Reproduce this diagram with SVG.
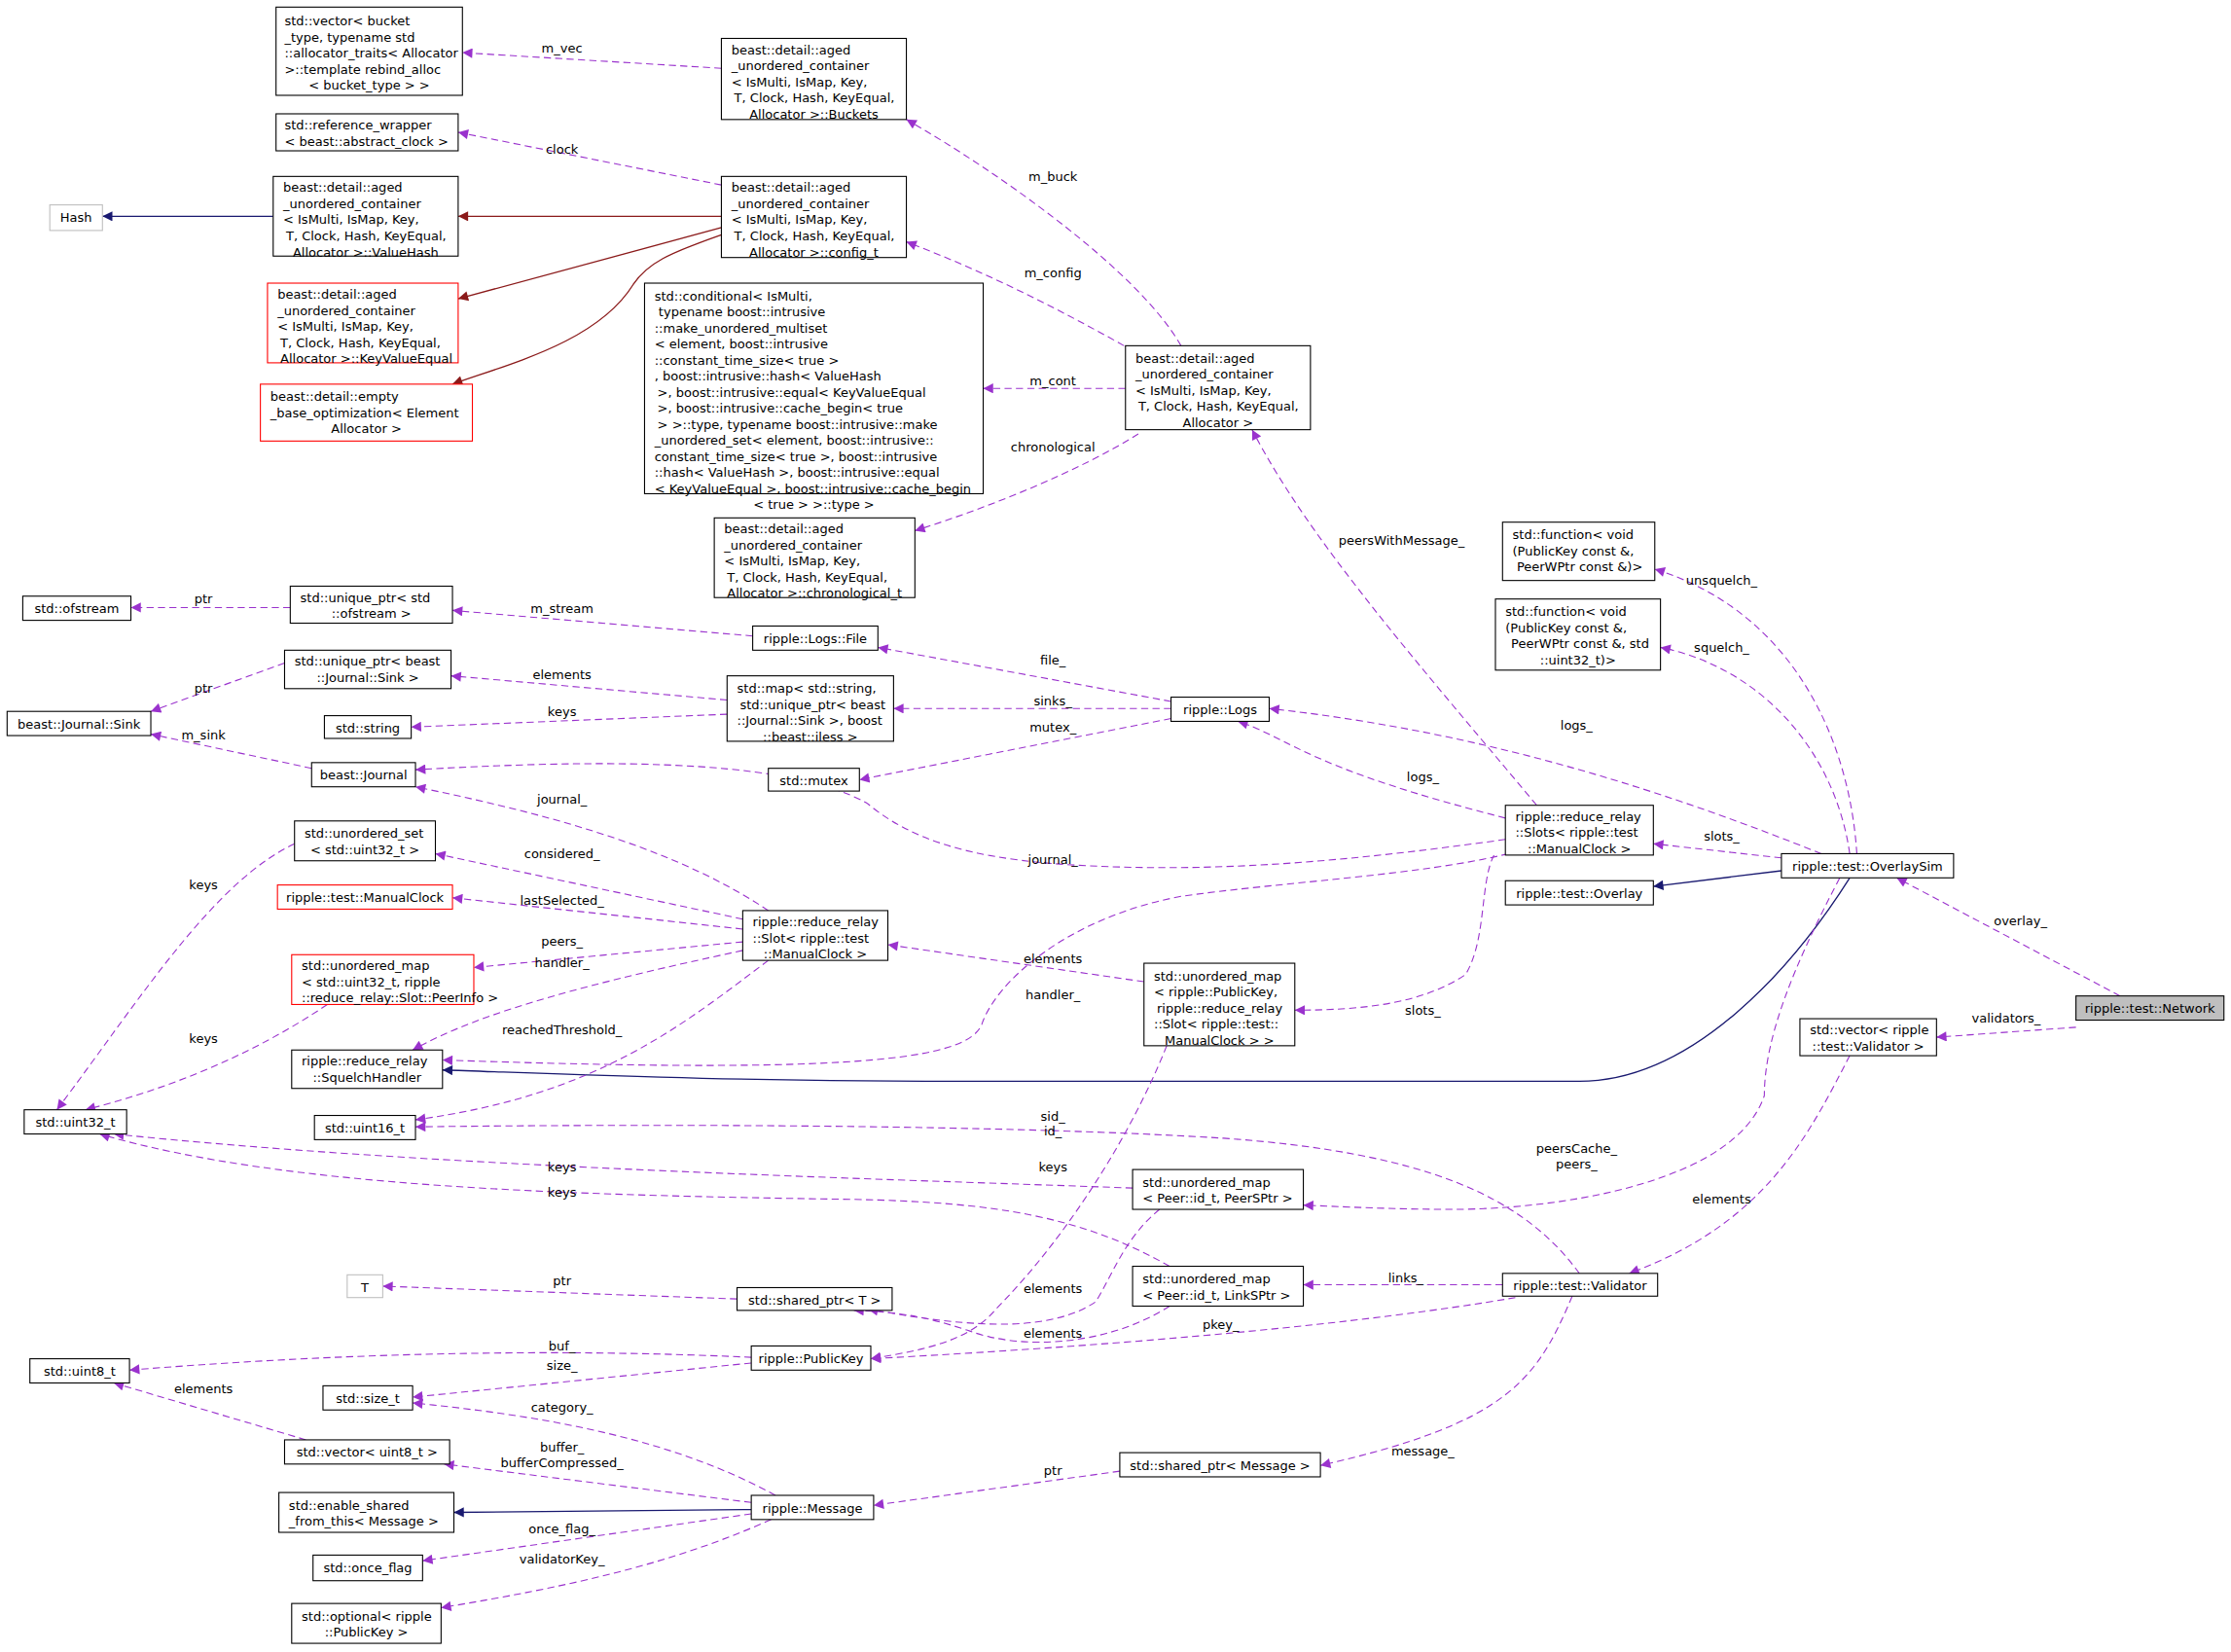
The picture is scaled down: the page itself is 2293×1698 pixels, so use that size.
<svg xmlns="http://www.w3.org/2000/svg" width="2293" height="1698" viewBox="0 0 2293 1698">
<style>
.n rect{fill:#fff;stroke:#000;stroke-width:0.75}
.n.r rect{stroke:#ff0000}
.n.g rect{stroke:#bfbfbf}
.n.s rect{fill:#bfbfbf}
text{font-family:"DejaVu Sans","Liberation Sans",sans-serif;font-size:8.9px;fill:#000}
.c{text-anchor:middle}
.e path{fill:none;stroke:#9a32cd;stroke-width:0.75;stroke-dasharray:5,3}
.e text{text-anchor:middle}
.i path{fill:none;stroke:#191970;stroke-width:0.9}
.d path{fill:none;stroke:#8b1a1a;stroke-width:0.9}
</style>
<defs>
<marker id="ap" viewBox="0 0 10 10" refX="10" refY="5" markerWidth="8" markerHeight="7" markerUnits="userSpaceOnUse" orient="auto"><path d="M0,0L10,5L0,10z" fill="#9a32cd"/></marker>
<marker id="an" viewBox="0 0 10 10" refX="10" refY="5" markerWidth="8" markerHeight="7" markerUnits="userSpaceOnUse" orient="auto"><path d="M0,0L10,5L0,10z" fill="#191970"/></marker>
<marker id="ad" viewBox="0 0 10 10" refX="10" refY="5" markerWidth="8" markerHeight="7" markerUnits="userSpaceOnUse" orient="auto"><path d="M0,0L10,5L0,10z" fill="#8b1a1a"/></marker>
</defs>
<rect width="2293" height="1698" fill="#fff"/>
<g transform="scale(1.4624)">
<g id="edges">
<g class="d">
<path d="M507,152L322,152" marker-end="url(#ad)"/>
<path d="M507,160L322,210" marker-end="url(#ad)"/>
<path d="M507,165C470,178 455,185 445,200C420,240 360,255 318,270" marker-end="url(#ad)"/>
</g>
<g class="i">
<path d="M192,152L72,152" marker-end="url(#an)"/>
<path d="M1252,612L1162,623" marker-end="url(#an)"/>
<path d="M1300,617C1260,680 1190,760 1110,760L700,760C500,760 400,755 311,752" marker-end="url(#an)"/>
<path d="M528,1061L319,1063" marker-end="url(#an)"/>
</g>
<g class="e">
<path d="M507,48L325,37" marker-end="url(#ap)"/><text x="395" y="37">m_vec</text>
<path d="M507,130L322,93" marker-end="url(#ap)"/><text x="395" y="108">clock</text>
<path d="M830,243C800,190 700,120 637,84" marker-end="url(#ap)"/><text x="740" y="127">m_buck</text>
<path d="M790,243C740,215 690,190 637,170" marker-end="url(#ap)"/><text x="740" y="195">m_config</text>
<path d="M791,273L691,273" marker-end="url(#ap)"/><text x="740" y="271">m_cont</text>
<path d="M800,305C760,330 700,355 643,373" marker-end="url(#ap)"/><text x="740" y="317">chronological</text>
<path d="M529,447L318,429" marker-end="url(#ap)"/><text x="395" y="431">m_stream</text>
<path d="M204,427L92,427" marker-end="url(#ap)"/><text x="143" y="424">ptr</text>
<path d="M823,493L617,455" marker-end="url(#ap)"/><text x="740" y="467">file_</text>
<path d="M823,498L628,498" marker-end="url(#ap)"/><text x="740" y="496">sinks_</text>
<path d="M823,505L604,548" marker-end="url(#ap)"/><text x="740" y="514">mutex_</text>
<path d="M511,492L317,475" marker-end="url(#ap)"/><text x="395" y="477">elements</text>
<path d="M511,502L289,511" marker-end="url(#ap)"/><text x="395" y="503">keys</text>
<path d="M200,466L106,500" marker-end="url(#ap)"/><text x="143" y="487">ptr</text>
<path d="M219,540L106,516" marker-end="url(#ap)"/><text x="143" y="520">m_sink</text>
<path d="M1058,575C1000,560 950,545 910,525C890,515 880,510 870,507" marker-end="url(#ap)"/><text x="1000" y="549">logs_</text>
<path d="M1280,600C1180,560 1050,515 892,498" marker-end="url(#ap)"/><text x="1108" y="513">logs_</text>
<path d="M1080,566C1000,470 920,380 880,302" marker-end="url(#ap)"/><text x="985" y="383">peersWithMessage_</text>
<path d="M1058,590C950,605 850,615 740,607C680,602 640,590 610,565C550,530 400,535 292,541" marker-end="url(#ap)"/><text x="740" y="607">journal_</text>
<path d="M540,640C480,600 400,575 292,553" marker-end="url(#ap)"/><text x="395" y="565">journal_</text>
<path d="M522,646L306,600" marker-end="url(#ap)"/><text x="395" y="603">considered_</text>
<path d="M522,653L318,631" marker-end="url(#ap)"/><text x="395" y="636">lastSelected_</text>
<path d="M522,662L333,680" marker-end="url(#ap)"/><text x="395" y="665">peers_</text>
<path d="M522,668C420,690 340,710 290,738" marker-end="url(#ap)"/><text x="395" y="680">handler_</text>
<path d="M540,675C480,720 420,770 292,787" marker-end="url(#ap)"/><text x="395" y="727">reachedThreshold_</text>
<path d="M207,593C150,620 100,700 40,780" marker-end="url(#ap)"/><text x="143" y="625">keys</text>
<path d="M230,706C180,740 120,765 60,780" marker-end="url(#ap)"/><text x="143" y="733">keys</text>
<path d="M1060,600C1000,615 900,620 830,630C750,645 700,690 690,720C680,745 600,755 311,745" marker-end="url(#ap)"/><text x="740" y="702">handler_</text>
<path d="M804,690L624,664" marker-end="url(#ap)"/><text x="740" y="677">elements</text>
<path d="M1050,601C1040,620 1045,660 1030,685C1000,705 960,710 910,710" marker-end="url(#ap)"/><text x="1000" y="713">slots_</text>
<path d="M1252,603L1162,593" marker-end="url(#ap)"/><text x="1210" y="591">slots_</text>
<path d="M1305,600C1300,520 1260,430 1163,400" marker-end="url(#ap)"/><text x="1210" y="411">unsquelch_</text>
<path d="M1300,600C1290,530 1240,470 1167,455" marker-end="url(#ap)"/><text x="1210" y="458">squelch_</text>
<path d="M1490,700L1333,617" marker-end="url(#ap)"/><text x="1420" y="650">overlay_</text>
<path d="M1459,722L1361,729" marker-end="url(#ap)"/><text x="1410" y="719">validators_</text>
<path d="M1300,742C1270,800 1240,860 1145,895" marker-end="url(#ap)"/><text x="1210" y="846">elements</text>
<path d="M1293,617C1260,680 1240,730 1240,770C1220,830 1100,850 1020,850C980,850 940,848 916,847" marker-end="url(#ap)"/><text x="1108" y="810">peersCache_</text><text x="1108" y="821">peers_</text>
<path d="M1110,895C1070,840 1000,810 860,800C700,790 450,790 292,792" marker-end="url(#ap)"/><text x="740" y="788">sid_</text><text x="740" y="798">id_</text>
<path d="M796,835C600,828 300,820 80,797" marker-end="url(#ap)"/><text x="395" y="823">keys</text>
<path d="M822,890C760,855 700,845 600,843C400,840 200,835 70,797" marker-end="url(#ap)"/><text x="395" y="841">keys</text>
<path d="M820,735C790,810 740,880 700,920C680,945 640,950 612,955" marker-end="url(#ap)"/><text x="740" y="823">keys</text>
<path d="M1056,903L916,903" marker-end="url(#ap)"/><text x="988" y="901">links_</text>
<path d="M1065,912C960,930 800,945 612,955" marker-end="url(#ap)"/><text x="858" y="934">pkey_</text>
<path d="M815,850C790,870 780,900 770,915C740,935 690,935 610,920" marker-end="url(#ap)"/><text x="740" y="909">elements</text>
<path d="M822,918C780,945 720,950 680,935C650,925 630,922 600,921" marker-end="url(#ap)"/><text x="740" y="940">elements</text>
<path d="M518,913L269,904" marker-end="url(#ap)"/><text x="395" y="903">ptr</text>
<path d="M528,954C400,948 250,950 91,963" marker-end="url(#ap)"/><text x="395" y="949">buf_</text>
<path d="M528,958L290,982" marker-end="url(#ap)"/><text x="395" y="963">size_</text>
<path d="M215,1012L80,972" marker-end="url(#ap)"/><text x="143" y="979">elements</text>
<path d="M545,1051C470,1010 380,995 290,986" marker-end="url(#ap)"/><text x="395" y="992">category_</text>
<path d="M528,1056L312,1029" marker-end="url(#ap)"/><text x="395" y="1020">buffer_</text><text x="395" y="1031">bufferCompressed_</text>
<path d="M528,1064L297,1097" marker-end="url(#ap)"/><text x="395" y="1078">once_flag_</text>
<path d="M542,1068C470,1100 400,1115 310,1130" marker-end="url(#ap)"/><text x="395" y="1099">validatorKey_</text>
<path d="M787,1034L614,1058" marker-end="url(#ap)"/><text x="740" y="1037">ptr</text>
<path d="M1105,911C1080,970 1060,1000 928,1030" marker-end="url(#ap)"/><text x="1000" y="1023">message_</text>
</g>
</g>

<g id="vec_bucket" class="n"><rect x="194" y="5" width="131" height="62"/><text y="18"><tspan x="200">std::vector&lt; bucket</tspan><tspan x="200" dy="11.3">_type, typename std</tspan><tspan x="200" dy="11.3">::allocator_traits&lt; Allocator</tspan><tspan x="200" dy="11.3">&gt;::template rebind_alloc</tspan><tspan x="259.5" dy="11.3" class="c">&lt; bucket_type &gt; &gt;</tspan></text></g>
<g id="buckets" class="n"><rect x="507" y="27" width="130" height="57"/><text y="38"><tspan x="514">beast::detail::aged</tspan><tspan x="514" dy="11.3">_unordered_container</tspan><tspan x="514" dy="11.3">&lt; IsMulti, IsMap, Key,</tspan><tspan x="516" dy="11.3">T, Clock, Hash, KeyEqual,</tspan><tspan x="572" dy="11.3" class="c">Allocator &gt;::Buckets</tspan></text></g>
<g id="refwrap" class="n"><rect x="194" y="80" width="128" height="26"/><text y="91"><tspan x="200">std::reference_wrapper</tspan><tspan x="200" dy="11.3">&lt; beast::abstract_clock &gt;</tspan></text></g>
<g id="valuehash" class="n"><rect x="192" y="124" width="130" height="56"/><text y="135"><tspan x="199">beast::detail::aged</tspan><tspan x="199" dy="11.3">_unordered_container</tspan><tspan x="199" dy="11.3">&lt; IsMulti, IsMap, Key,</tspan><tspan x="201" dy="11.3">T, Clock, Hash, KeyEqual,</tspan><tspan x="257" dy="11.3" class="c">Allocator &gt;::ValueHash</tspan></text></g>
<g id="hash" class="n g"><rect x="35" y="144" width="37" height="18"/><text x="53.5" y="156" class="c">Hash</text></g>
<g id="config_t" class="n"><rect x="507" y="124" width="130" height="57"/><text y="135"><tspan x="514">beast::detail::aged</tspan><tspan x="514" dy="11.3">_unordered_container</tspan><tspan x="514" dy="11.3">&lt; IsMulti, IsMap, Key,</tspan><tspan x="516" dy="11.3">T, Clock, Hash, KeyEqual,</tspan><tspan x="572" dy="11.3" class="c">Allocator &gt;::config_t</tspan></text></g>
<g id="keyvalueequal" class="n r"><rect x="188" y="199" width="134" height="56"/><text y="210"><tspan x="195">beast::detail::aged</tspan><tspan x="195" dy="11.3">_unordered_container</tspan><tspan x="195" dy="11.3">&lt; IsMulti, IsMap, Key,</tspan><tspan x="197" dy="11.3">T, Clock, Hash, KeyEqual,</tspan><tspan x="197" dy="11.3">Allocator &gt;::KeyValueEqual</tspan></text></g>
<g id="empty_base" class="n r"><rect x="183" y="270" width="149" height="40"/><text y="282"><tspan x="190">beast::detail::empty</tspan><tspan x="190" dy="11.3">_base_optimization&lt; Element</tspan><tspan x="257.5" dy="11.3" class="c">Allocator &gt;</tspan></text></g>
<g id="conditional" class="n"><rect x="453" y="199" width="238" height="148"/><text y="211"><tspan x="460">std::conditional&lt; IsMulti,</tspan><tspan x="460" dy="11.3"> typename boost::intrusive</tspan><tspan x="460" dy="11.3">::make_unordered_multiset</tspan><tspan x="460" dy="11.3">&lt; element, boost::intrusive</tspan><tspan x="460" dy="11.3">::constant_time_size&lt; true &gt;</tspan><tspan x="460" dy="11.3">, boost::intrusive::hash&lt; ValueHash</tspan><tspan x="462" dy="11.3">&gt;, boost::intrusive::equal&lt; KeyValueEqual</tspan><tspan x="462" dy="11.3">&gt;, boost::intrusive::cache_begin&lt; true</tspan><tspan x="462" dy="11.3">&gt; &gt;::type, typename boost::intrusive::make</tspan><tspan x="460" dy="11.3">_unordered_set&lt; element, boost::intrusive::</tspan><tspan x="460" dy="11.3">constant_time_size&lt; true &gt;, boost::intrusive</tspan><tspan x="460" dy="11.3">::hash&lt; ValueHash &gt;, boost::intrusive::equal</tspan><tspan x="460" dy="11.3">&lt; KeyValueEqual &gt;, boost::intrusive::cache_begin</tspan><tspan x="572" dy="11.3" class="c">&lt; true &gt; &gt;::type &gt;</tspan></text></g>
<g id="aged_container" class="n"><rect x="791" y="243" width="130" height="59"/><text y="255"><tspan x="798">beast::detail::aged</tspan><tspan x="798" dy="11.3">_unordered_container</tspan><tspan x="798" dy="11.3">&lt; IsMulti, IsMap, Key,</tspan><tspan x="800" dy="11.3">T, Clock, Hash, KeyEqual,</tspan><tspan x="856" dy="11.3" class="c">Allocator &gt;</tspan></text></g>
<g id="chronological" class="n"><rect x="502" y="364" width="141" height="56"/><text y="375"><tspan x="509">beast::detail::aged</tspan><tspan x="509" dy="11.3">_unordered_container</tspan><tspan x="509" dy="11.3">&lt; IsMulti, IsMap, Key,</tspan><tspan x="511" dy="11.3">T, Clock, Hash, KeyEqual,</tspan><tspan x="511" dy="11.3">Allocator &gt;::chronological_t</tspan></text></g>
<g id="fn_unsquelch" class="n"><rect x="1056" y="367" width="107" height="41"/><text y="379"><tspan x="1063">std::function&lt; void</tspan><tspan x="1063" dy="11.3">(PublicKey const &amp;,</tspan><tspan x="1066" dy="11.3">PeerWPtr const &amp;)&gt;</tspan></text></g>
<g id="fn_squelch" class="n"><rect x="1051" y="421" width="116" height="50"/><text y="433"><tspan x="1058">std::function&lt; void</tspan><tspan x="1058" dy="11.3">(PublicKey const &amp;,</tspan><tspan x="1062" dy="11.3">PeerWPtr const &amp;, std</tspan><tspan x="1109" dy="11.3" class="c">::uint32_t)&gt;</tspan></text></g>
<g id="ofstream" class="n"><rect x="16" y="419" width="76" height="17"/><text x="54" y="431" class="c">std::ofstream</text></g>
<g id="uptr_ofstream" class="n"><rect x="204" y="412" width="114" height="26"/><text y="423"><tspan x="211">std::unique_ptr&lt; std</tspan><tspan x="261" dy="11.3" class="c">::ofstream &gt;</tspan></text></g>
<g id="logs_file" class="n"><rect x="529" y="440" width="88" height="17"/><text x="573" y="452" class="c">ripple::Logs::File</text></g>
<g id="uptr_sink" class="n"><rect x="200" y="457" width="117" height="27"/><text y="468"><tspan x="207">std::unique_ptr&lt; beast</tspan><tspan x="258.5" dy="11.3" class="c">::Journal::Sink &gt;</tspan></text></g>
<g id="std_map" class="n"><rect x="511" y="475" width="117" height="46"/><text y="487"><tspan x="518">std::map&lt; std::string,</tspan><tspan x="520" dy="11.3">std::unique_ptr&lt; beast</tspan><tspan x="518" dy="11.3">::Journal::Sink &gt;, boost</tspan><tspan x="569.5" dy="11.3" class="c">::beast::iless &gt;</tspan></text></g>
<g id="logs" class="n"><rect x="823" y="490" width="69" height="17"/><text x="857.5" y="502" class="c">ripple::Logs</text></g>
<g id="journal_sink" class="n"><rect x="5" y="500" width="101" height="17"/><text x="55.5" y="512" class="c">beast::Journal::Sink</text></g>
<g id="std_string" class="n"><rect x="228" y="503" width="61" height="16"/><text x="258.5" y="515" class="c">std::string</text></g>
<g id="beast_journal" class="n"><rect x="219" y="536" width="73" height="17"/><text x="255.5" y="548" class="c">beast::Journal</text></g>
<g id="std_mutex" class="n"><rect x="540" y="540" width="64" height="16"/><text x="572" y="552" class="c">std::mutex</text></g>
<g id="unordered_set" class="n"><rect x="207" y="577" width="99" height="28"/><text y="589"><tspan x="214">std::unordered_set</tspan><tspan x="256.5" dy="11.3" class="c">&lt; std::uint32_t &gt;</tspan></text></g>
<g id="manualclock" class="n r"><rect x="195" y="622" width="123" height="17"/><text x="256.5" y="634" class="c">ripple::test::ManualClock</text></g>
<g id="slot" class="n"><rect x="522" y="640" width="102" height="35"/><text y="651"><tspan x="529">ripple::reduce_relay</tspan><tspan x="529" dy="11.3">::Slot&lt; ripple::test</tspan><tspan x="573" dy="11.3" class="c">::ManualClock &gt;</tspan></text></g>
<g id="umap_peerinfo" class="n r"><rect x="205" y="671" width="128" height="35"/><text y="682"><tspan x="212">std::unordered_map</tspan><tspan x="212" dy="11.3">&lt; std::uint32_t, ripple</tspan><tspan x="212" dy="11.3">::reduce_relay::Slot::PeerInfo &gt;</tspan></text></g>
<g id="squelch_handler" class="n"><rect x="205" y="738" width="106" height="27"/><text y="749"><tspan x="212">ripple::reduce_relay</tspan><tspan x="258" dy="11.3" class="c">::SquelchHandler</tspan></text></g>
<g id="uint32" class="n"><rect x="17" y="780" width="72" height="17"/><text x="53" y="792" class="c">std::uint32_t</text></g>
<g id="uint16" class="n"><rect x="221" y="784" width="71" height="17"/><text x="256.5" y="796" class="c">std::uint16_t</text></g>
<g id="slots" class="n"><rect x="1058" y="566" width="104" height="35"/><text y="577"><tspan x="1065">ripple::reduce_relay</tspan><tspan x="1065" dy="11.3">::Slots&lt; ripple::test</tspan><tspan x="1110" dy="11.3" class="c">::ManualClock &gt;</tspan></text></g>
<g id="overlaysim" class="n"><rect x="1252" y="600" width="121" height="17"/><text x="1312.5" y="612" class="c">ripple::test::OverlaySim</text></g>
<g id="overlay" class="n"><rect x="1058" y="619" width="104" height="17"/><text x="1110" y="631" class="c">ripple::test::Overlay</text></g>
<g id="network" class="n s"><rect x="1459" y="700" width="104" height="17"/><text x="1511" y="712" class="c">ripple::test::Network</text></g>
<g id="vec_validator" class="n"><rect x="1265" y="716" width="96" height="26"/><text y="727"><tspan x="1272">std::vector&lt; ripple</tspan><tspan x="1313" dy="11.3" class="c">::test::Validator &gt;</tspan></text></g>
<g id="umap_pubkey" class="n"><rect x="804" y="677" width="106" height="58"/><text y="689"><tspan x="811">std::unordered_map</tspan><tspan x="811" dy="11.3">&lt; ripple::PublicKey,</tspan><tspan x="813" dy="11.3">ripple::reduce_relay</tspan><tspan x="811" dy="11.3">::Slot&lt; ripple::test::</tspan><tspan x="857" dy="11.3" class="c">ManualClock &gt; &gt;</tspan></text></g>
<g id="umap_peersptr" class="n"><rect x="796" y="822" width="120" height="28"/><text y="834"><tspan x="803">std::unordered_map</tspan><tspan x="803" dy="11.3">&lt; Peer::id_t, PeerSPtr &gt;</tspan></text></g>
<g id="umap_linksptr" class="n"><rect x="796" y="890" width="120" height="28"/><text y="902"><tspan x="803">std::unordered_map</tspan><tspan x="803" dy="11.3">&lt; Peer::id_t, LinkSPtr &gt;</tspan></text></g>
<g id="validator" class="n"><rect x="1056" y="895" width="109" height="16"/><text x="1110.5" y="907" class="c">ripple::test::Validator</text></g>
<g id="T" class="n g"><rect x="244" y="896" width="25" height="16"/><text x="256.5" y="908" class="c">T</text></g>
<g id="sptr_T" class="n"><rect x="518" y="905" width="109" height="16"/><text x="572.5" y="917" class="c">std::shared_ptr&lt; T &gt;</text></g>
<g id="publickey" class="n"><rect x="528" y="946" width="84" height="17"/><text x="570" y="958" class="c">ripple::PublicKey</text></g>
<g id="uint8" class="n"><rect x="21" y="955" width="70" height="17"/><text x="56" y="967" class="c">std::uint8_t</text></g>
<g id="size_t" class="n"><rect x="227" y="974" width="63" height="17"/><text x="258.5" y="986" class="c">std::size_t</text></g>
<g id="vec_uint8" class="n"><rect x="200" y="1012" width="116" height="17"/><text x="258" y="1024" class="c">std::vector&lt; uint8_t &gt;</text></g>
<g id="enable_shared" class="n"><rect x="196" y="1049" width="123" height="28"/><text y="1061"><tspan x="203">std::enable_shared</tspan><tspan x="203" dy="11.3">_from_this&lt; Message &gt;</tspan></text></g>
<g id="message" class="n"><rect x="528" y="1051" width="86" height="17"/><text x="571" y="1063" class="c">ripple::Message</text></g>
<g id="sptr_message" class="n"><rect x="787" y="1021" width="141" height="17"/><text x="857.5" y="1033" class="c">std::shared_ptr&lt; Message &gt;</text></g>
<g id="once_flag" class="n"><rect x="220" y="1093" width="77" height="18"/><text x="258.5" y="1105" class="c">std::once_flag</text></g>
<g id="optional" class="n"><rect x="205" y="1127" width="105" height="28"/><text y="1139"><tspan x="212">std::optional&lt; ripple</tspan><tspan x="257.5" dy="11.3" class="c">::PublicKey &gt;</tspan></text></g>
</g>
</svg>
